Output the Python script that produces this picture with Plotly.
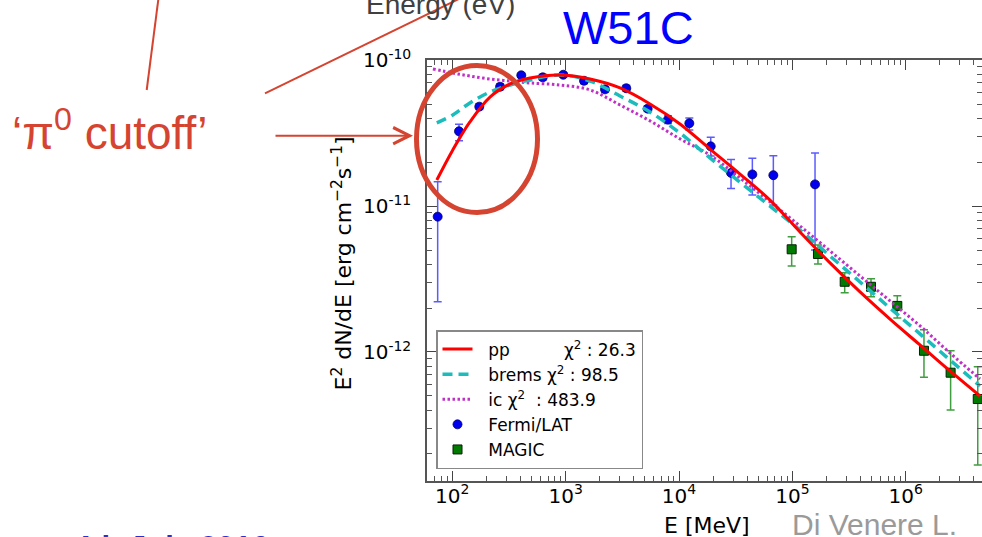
import plotly.graph_objects as go

# ---------------- data ----------------
fermi_E = [74.3, 114.6, 173, 264, 406, 628, 953, 1452, 2224, 3427, 5291, 7998,
           12330, 19050, 28770, 44360, 67950, 158500]
fermi_F = [8.47e-12, 3.26e-11, 4.81e-11, 6.59e-11, 7.89e-11, 7.64e-11, 7.96e-11,
           7.24e-11, 6.32e-11, 6.43e-11, 4.66e-11, 3.92e-11, 3.70e-11, 2.57e-11,
           1.69e-11, 1.65e-11, 1.63e-11, 1.41e-11]
fermi_hi = [1.47e-11, 3.64e-11, 5.04e-11, 6.91e-11, 8.14e-11, 8.01e-11, 8.21e-11,
            7.59e-11, 6.62e-11, 6.74e-11, 4.88e-11, 4.17e-11, 4.02e-11, 2.97e-11,
            2.09e-11, 2.13e-11, 2.22e-11, 2.31e-11]
fermi_lo = [2.21e-12, 2.81e-11, 4.59e-11, 6.29e-11, 7.65e-11, 7.29e-11, 7.71e-11,
            6.91e-11, 6.03e-11, 6.14e-11, 4.45e-11, 3.68e-11, 3.33e-11, 2.21e-11,
            1.32e-11, 1.19e-11, 1.02e-11, 5.00e-12]

magic_E = [98600, 168200, 289500, 494000, 843000, 1449000, 2490000, 4320000]
magic_F = [5.06e-12, 4.70e-12, 3.03e-12, 2.80e-12, 2.07e-12, 1.02e-12, 7.21e-13, 4.76e-13]
magic_hi = [6.18e-12, 5.42e-12, 3.50e-12, 3.18e-12, 2.43e-12, 1.42e-12, 1.02e-12, 7.93e-13]
magic_lo = [3.89e-12, 4.01e-12, 2.55e-12, 2.39e-12, 1.71e-12, 6.71e-13, 4.00e-13, 1.68e-13]

model_E = [73, 101, 143, 215, 323, 485, 891, 1640, 3017, 5549, 10200, 18770, 34530,
           63500, 116800, 214900, 395300, 727000, 1337000, 2459000, 4523000]
pp_F = [1.51e-11, 2.43e-11, 3.78e-11, 5.60e-11, 6.88e-11, 7.56e-11, 7.93e-11, 7.44e-11,
        6.46e-11, 5.02e-11, 3.66e-11, 2.46e-11, 1.66e-11, 1.10e-11, 6.65e-12, 4.08e-12,
        2.58e-12, 1.68e-12, 1.117e-12, 7.41e-13, 4.99e-13]
brems_F = [3.72e-11, 4.22e-11, 5.10e-11, 6.06e-11, 6.77e-11, 7.33e-11, 7.93e-11, 7.21e-11,
           5.69e-11, 4.42e-11, 3.17e-11, 2.14e-11, 1.46e-11, 1.00e-11, 6.86e-12, 4.55e-12,
           3.02e-12, 2.00e-12, 1.33e-12, 8.81e-13, 5.85e-13]
ic_E = [67.5, 101, 143, 215, 323, 485, 891, 1640, 3017, 5549, 10200, 18770, 34530,
        63500, 116800, 214900, 395300, 727000, 1337000, 2459000, 4523000]
ic_F = [8.72e-11, 8.18e-11, 7.80e-11, 7.44e-11, 7.21e-11, 6.99e-11, 6.77e-11, 6.26e-11,
        4.94e-11, 3.84e-11, 2.89e-11, 2.24e-11, 1.56e-11, 1.07e-11, 7.31e-12, 4.93e-12,
        3.32e-12, 2.24e-12, 1.51e-12, 9.84e-13, 6.53e-13]

x_tickvals = [1e2, 1e3, 1e4, 1e5, 1e6]
x_ticktext = ["10<sup>2</sup>", "10<sup>3</sup>", "10<sup>4</sup>", "10<sup>5</sup>", "10<sup>6</sup>"]
y_tickvals = [1e-12, 1e-11, 1e-10]
y_ticktext = ["10<sup>-12</sup>", "10<sup>-11</sup>", "10<sup>-10</sup>"]

NB = "\u00a0"
pp_name = NB * 2 + "pp" + NB * 10 + "χ<sup>2</sup> : 26.3"
brems_name = NB * 2 + "brems χ<sup>2</sup> : 98.5"
ic_name = NB * 2 + "ic χ<sup>2</sup>" + NB + " : 483.9"
fermi_name = NB * 2 + "Fermi/LAT"
magic_name = NB * 2 + "MAGIC"

# ---------------- layout helpers ----------------
W, H = 982, 537
L, R, T, B = 427, 982, 60, 481
def px(x):
    return (x - L) / (R - L)
def py(y):
    return (B - y) / (B - T)

RED = "rgb(213,68,48)"
PLOTFONT = "DejaVu Sans"
SLIDEFONT = "Liberation Sans, Arial"

fig = go.Figure()

fig.add_trace(go.Scatter(
    x=fermi_E, y=fermi_F, mode="markers", name=fermi_name, legendrank=4,
    marker=dict(symbol="circle", size=9, color="#0000ee", line=dict(color="#000066", width=0.8)),
    error_y=dict(type="data", symmetric=False,
                 array=[h - f for h, f in zip(fermi_hi, fermi_F)],
                 arrayminus=[f - l for f, l in zip(fermi_F, fermi_lo)],
                 color="rgba(50,50,255,0.8)", thickness=1.5, width=4)))
fig.add_trace(go.Scatter(
    x=magic_E, y=magic_F, mode="markers", name=magic_name, legendrank=5,
    marker=dict(symbol="square", size=9, color="#007a00", line=dict(color="#002200", width=1)),
    error_y=dict(type="data", symmetric=False,
                 array=[h - f for h, f in zip(magic_hi, magic_F)],
                 arrayminus=[f - l for f, l in zip(magic_F, magic_lo)],
                 color="rgba(30,140,30,0.85)", thickness=1.5, width=4)))
fig.add_trace(go.Scatter(
    x=ic_E, y=ic_F, mode="lines", name=ic_name, legendrank=3, line_shape="spline",
    line=dict(color="#c030c8", width=3, dash="2.5px,2.5px")))
fig.add_trace(go.Scatter(
    x=model_E, y=brems_F, mode="lines", name=brems_name, legendrank=2, line_shape="spline",
    line=dict(color="#1cbcbc", width=3.5, dash="10px,6px")))
fig.add_trace(go.Scatter(
    x=model_E, y=pp_F, mode="lines", name=pp_name, legendrank=1, line_shape="spline",
    line=dict(color="#ff0000", width=3)))

axis_common = dict(
    type="log", ticks="inside", ticklen=10, tickwidth=1.2, tickcolor="#444",
    showline=True, linecolor="#555", linewidth=1.5, mirror="allticks",
    showgrid=False, zeroline=False, automargin=False,
    tickfont=dict(family=PLOTFONT, size=20, color="black"),
    minor=dict(ticks="inside", ticklen=5, tickwidth=1, tickcolor="#555", dtick="D1", showgrid=False),
)

fig.update_layout(
    width=W, height=H,
    margin=dict(l=L, r=W - R, t=T, b=H - B, pad=0),
    paper_bgcolor="white", plot_bgcolor="white",
    xaxis=dict(range=[1.7768, 6.673], tickmode="array", tickvals=x_tickvals,
               ticktext=x_ticktext, ticklabelstandoff=-4, **axis_common),
    yaxis=dict(range=[-12.8845, -9.998], tickmode="array", tickvals=y_tickvals,
               ticktext=y_ticktext, ticklabelstandoff=10, **axis_common),
    showlegend=True,
    legend=dict(x=px(436), y=py(330), xanchor="left", yanchor="top",
                bgcolor="white", bordercolor="#888", borderwidth=1.5,
                font=dict(family=PLOTFONT, size=17, color="black"),
                itemwidth=30, tracegroupgap=4),
)

ann = []
ann.append(dict(text="E<sup>2</sup> dN/dE [erg cm<sup>−2</sup>s<sup>−1</sup>]",
                x=px(341), y=py(263.5), xref="paper", yref="paper", textangle=-90,
                showarrow=False, xanchor="center", yanchor="middle",
                font=dict(family=PLOTFONT, size=22, color="black")))
ann.append(dict(text="E [MeV]", x=px(707), y=py(525), xref="paper", yref="paper",
                showarrow=False, xanchor="center", yanchor="middle",
                font=dict(family=PLOTFONT, size=22, color="black")))
ann.append(dict(text="W51C", x=px(628), y=py(28), xref="paper", yref="paper",
                showarrow=False, xanchor="center", yanchor="middle",
                font=dict(family=SLIDEFONT, size=47, color="#0000ff")))
ann.append(dict(text="Energy (eV)", x=px(440), y=py(4), xref="paper", yref="paper",
                showarrow=False, xanchor="center", yanchor="middle",
                font=dict(family=SLIDEFONT, size=28, color="#404040")))
ann.append(dict(text="‘π<sup>0</sup> cutoff’", x=px(10), y=py(130), xref="paper", yref="paper",
                showarrow=False, xanchor="left", yanchor="middle",
                font=dict(family=SLIDEFONT, size=46, color=RED)))
ann.append(dict(text="Di Venere L.", x=px(790), y=py(524), xref="paper", yref="paper",
                showarrow=False, xanchor="left", yanchor="middle",
                font=dict(family=SLIDEFONT, size=30, color="#9a9a9a")))
ann.append(dict(text="<b>4th July 2016</b>", x=px(72), y=py(528), xref="paper", yref="paper",
                showarrow=False, xanchor="left", yanchor="top",
                font=dict(family=SLIDEFONT, size=31, color="#2b2bd0")))
ann.append(dict(text="", x=px(413), y=py(135.7), xref="paper", yref="paper",
                showarrow=True, ax=-139, ay=0, arrowhead=5, arrowsize=1.6, arrowwidth=2,
                arrowcolor=RED, standoff=0, startstandoff=0))
fig.update_layout(annotations=ann)

shapes = []
shapes.append(dict(type="circle", xref="paper", yref="paper",
                   x0=px(416.5), x1=px(537.5), y0=py(212.5), y1=py(65.5),
                   line=dict(color=RED, width=5), layer="above"))
shapes.append(dict(type="line", xref="paper", yref="paper",
                   x0=px(146.7), y0=py(90), x1=px(158.5), y1=py(-2),
                   line=dict(color=RED, width=2)))
shapes.append(dict(type="line", xref="paper", yref="paper",
                   x0=px(265), y0=py(93.3), x1=px(460.8), y1=py(-2),
                   line=dict(color=RED, width=2)))
fig.update_layout(shapes=shapes)

fig.write_html("out.html", config={"displayModeBar": False},
               post_script="document.body.style.margin='0px';document.body.style.overflow='hidden';")
